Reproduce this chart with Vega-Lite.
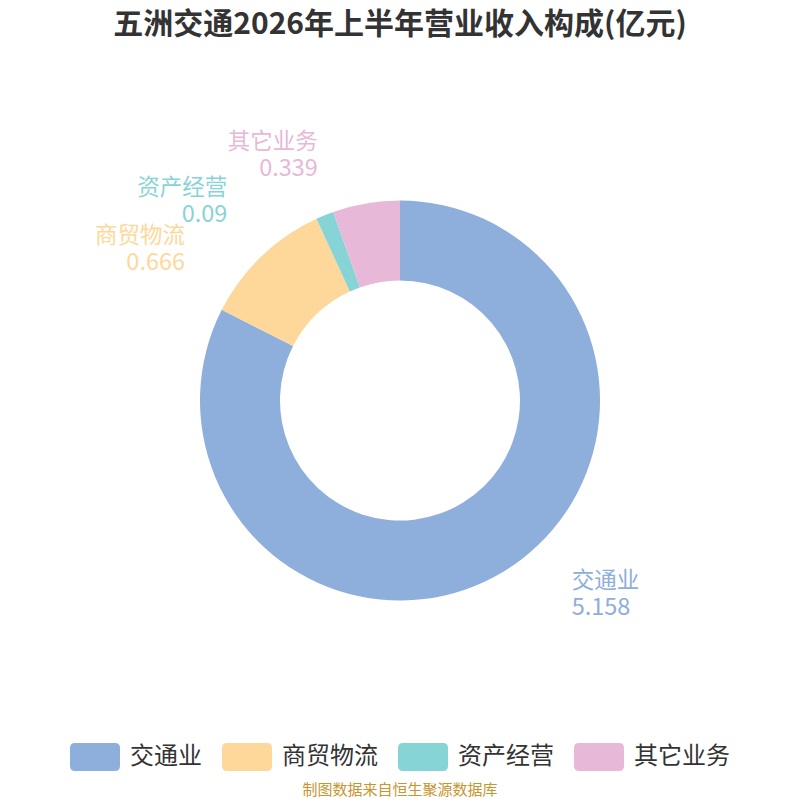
{
  "$schema": "https://vega.github.io/schema/vega-lite/v6.json",
  "width": 800,
  "height": 800,
  "autosize": {"type": "fit", "contains": "padding"},
  "padding": {"top": 10, "bottom": 2, "left": 0, "right": 0},
  "background": "#ffffff",
  "config": {
    "view": {"stroke": null},
    "font": "Noto Sans CJK SC",
    "legend": {"layout": {"bottom": {"anchor": "middle"}}}
  },
  "title": {
    "text": "五洲交通2026年上半年营业收入构成(亿元)",
    "fontSize": 30,
    "fontWeight": "bold",
    "color": "#333333",
    "anchor": "middle",
    "offset": 47
  },
  "data": {
    "values": [
      {"name": "交通业", "value": 5.158},
      {"name": "商贸物流", "value": 0.666},
      {"name": "资产经营", "value": 0.09},
      {"name": "其它业务", "value": 0.339}
    ]
  },
  "transform": [{"window": [{"op": "row_number", "as": "idx"}]}],
  "encoding": {
    "theta": {"field": "value", "type": "quantitative", "stack": true},
    "order": {"field": "idx", "type": "quantitative"},
    "color": {
      "field": "name",
      "type": "nominal",
      "sort": null,
      "scale": {
        "domain": ["交通业", "商贸物流", "资产经营", "其它业务"],
        "range": ["#8eaedb", "#fed89a", "#87d4d6", "#e7b8d8"]
      },
      "legend": {
        "orient": "bottom",
        "direction": "horizontal",
        "title": "制图数据来自恒生聚源数据库",
        "titleOrient": "bottom",
        "titleAnchor": "middle",
        "titleColor": "#c8952f",
        "titleFontSize": 15,
        "titleFontWeight": "normal",
        "titlePadding": 12,
        "titleLimit": 0,
        "labelFontSize": 24,
        "labelColor": "#333333",
        "labelOffset": 10,
        "labelLimit": 0,
        "columnPadding": 20,
        "symbolType": "M-0.8,-0.56L0.8,-0.56Q1,-0.56 1,-0.36L1,0.36Q1,0.56 0.8,0.56L-0.8,0.56Q-1,0.56 -1,0.36L-1,-0.36Q-1,-0.56 -0.8,-0.56Z",
        "symbolSize": 2500,
        "symbolStrokeWidth": 0,
        "symbolOpacity": 1
      }
    }
  },
  "layer": [
    {"mark": {"type": "arc", "outerRadius": 200, "innerRadius": 120}},
    {
      "mark": {
        "type": "text",
        "radius": 225,
        "fontSize": 22.5,
        "align": {"expr": "datum.name == '交通业' ? 'left' : 'right'"},
        "dx": {"expr": "datum.name == '交通业' ? 54 : datum.name == '商贸物流' ? -59 : datum.name == '资产经营' ? -88 : -44"},
        "dy": {"expr": "datum.name == '交通业' ? -11 : datum.name == '商贸物流' ? -2 : datum.name == '资产经营' ? -4 : -37"}
      },
      "encoding": {"text": {"field": "name", "type": "nominal"}}
    },
    {
      "mark": {
        "type": "text",
        "radius": 225,
        "fontSize": 23.5,
        "align": {"expr": "datum.name == '交通业' ? 'left' : 'right'"},
        "dx": {"expr": "datum.name == '交通业' ? 54 : datum.name == '商贸物流' ? -59 : datum.name == '资产经营' ? -88 : -44"},
        "dy": {"expr": "datum.name == '交通业' ? 16 : datum.name == '商贸物流' ? 25 : datum.name == '资产经营' ? 23 : -10"}
      },
      "encoding": {"text": {"field": "value", "type": "nominal"}}
    }
  ]
}
